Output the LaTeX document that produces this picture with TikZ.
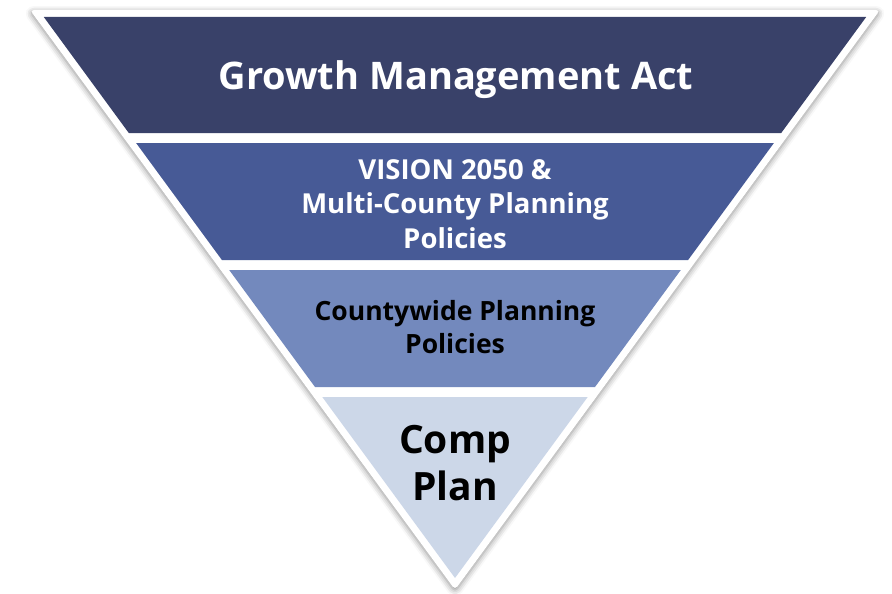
\documentclass[tikz,border=0pt]{standalone}
\usepackage{fontspec}
\setmainfont{Open Sans}
\usetikzlibrary{shadows.blur}

\definecolor{gmaband}{HTML}{394169}
\definecolor{visionband}{HTML}{475A96}
\definecolor{cppband}{HTML}{7389BD}
\definecolor{compband}{HTML}{CCD7E8}

\tikzset{
  outline/.style={fill=white, rounded corners=4pt,
    blur shadow={shadow xshift=0pt, shadow yshift=-2pt, shadow blur radius=6pt, shadow opacity=45}},
  bandtext/.style={align=center, inner sep=0pt},
}

\begin{document}
\begin{tikzpicture}[x=1pt,y=-1pt]
	\useasboundingbox (0,0) rectangle (892,594);
	% white outline with soft shadow
	\path[outline] (30,10) -- (880,10) -- (455,589.8) -- cycle;
	% the four bands
	\fill[gmaband] (43.8,17) -- (866.2,17) -- (781.2,133) -- (128.8,133) -- cycle;
	\fill[visionband] (136.1,143) -- (773.9,143) -- (688.1,260) -- (221.9,260) -- cycle;
	\fill[cppband] (229.2,270) -- (680.8,270) -- (595,387) -- (315,387) -- cycle;
	\fill[compband] (322.3,397) -- (587.7,397) -- (455,578) -- cycle;
	% labels
	\node[bandtext, text=white, anchor=base, font=\bfseries\fontsize{38}{44}\selectfont] (gma) at (456,89) {Growth Management Act};
	\node[bandtext, text=white, anchor=north, font=\bfseries\fontsize{27.5}{34.5}\selectfont] (vision) at (455,159) {VISION 2050 \&\\Multi-County Planning\\Policies};
	\node[bandtext, text=black, anchor=north, font=\bfseries\fontsize{26.5}{33}\selectfont] (cpp) at (455,300) {Countywide Planning\\Policies};
	\node[bandtext, text=black, anchor=north, font=\bfseries\fontsize{39}{47}\selectfont] (comp) at (455,425) {Comp\\Plan};
\end{tikzpicture}
\end{document}
